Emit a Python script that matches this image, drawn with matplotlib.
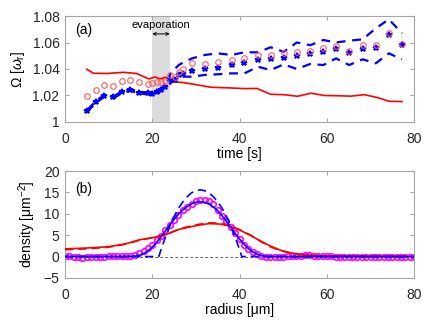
import matplotlib
matplotlib.use("Agg")
import matplotlib.pyplot as plt
import numpy as np

plt.rcParams['font.family'] = ['Liberation Sans', 'DejaVu Sans']
plt.rcParams['font.size'] = 10
plt.rcParams['mathtext.fontset'] = 'custom'
plt.rcParams['mathtext.rm'] = 'Liberation Sans'
plt.rcParams['mathtext.it'] = 'Liberation Sans:italic'

# ---------------- panel (a) data ----------------
t_line = [5.0, 6.5, 9.6, 13.4, 16.4, 19.2, 20.7, 21.8, 23.0, 24.1, 25.2, 26.5,
          29.5, 33.4, 37.2, 41.0, 44.0, 47.1, 50.2, 53.3, 56.3, 59.4, 62.5,
          65.5, 68.6, 71.6, 74.3, 77.2]
omega_line = [1.0398, 1.0368, 1.0366, 1.0375, 1.0366, 1.0325, 1.0340, 1.0325,
              1.0338, 1.0317, 1.0300, 1.0300, 1.0285, 1.0262, 1.0258, 1.0252,
              1.0253, 1.0209, 1.0206, 1.0194, 1.0217, 1.0200, 1.0198, 1.0195,
              1.0206, 1.0184, 1.0156, 1.0154]

t_pts = [5.1, 7.1, 9.0, 11.1, 13.0, 15.0, 17.0, 19.0, 20.0, 21.0, 22.0, 23.0,
         24.1, 25.1, 26.1, 27.1, 29.1, 32.0, 35.0, 38.2, 41.1, 44.2, 47.1,
         50.1, 53.1, 56.2, 59.2, 62.1, 65.1, 68.2, 71.2, 74.2, 77.2]
omega_circ = [1.0196, 1.0242, 1.0282, 1.0274, 1.0310, 1.0315, 1.0300, 1.0290,
              1.0296, 1.0300, 1.0304, 1.0310, 1.0355, 1.0340, 1.0378, 1.0398,
              1.0443, 1.0440, 1.0450, 1.0470, 1.0480, 1.0506, 1.0506, 1.0518,
              1.0526, 1.0536, 1.0556, 1.0574, 1.0538, 1.0579, 1.0583, 1.0674,
              1.0591]
omega_mean = [1.0083, 1.0153, 1.0196, 1.0186, 1.0224, 1.0242, 1.0221, 1.0216,
              1.0210, 1.0225, 1.0240, 1.0267, 1.0320, 1.0320, 1.0355, 1.0362,
              1.0387, 1.0398, 1.0405, 1.0430, 1.0448, 1.0468, 1.0475, 1.0485,
              1.0500, 1.0511, 1.0531, 1.0551, 1.0518, 1.0551, 1.0561, 1.0659,
              1.0579]
omega_upper = [1.0090, 1.0160, 1.0203, 1.0193, 1.0231, 1.0249, 1.0228, 1.0223,
               1.0217, 1.0232, 1.0247, 1.0274, 1.0360, 1.0400, 1.0430, 1.0450,
               1.0480, 1.0506, 1.0518, 1.0506, 1.0526, 1.0526, 1.0564, 1.0530,
               1.0600, 1.0580, 1.0619, 1.0600, 1.0614, 1.0624, 1.0707, 1.0775,
               1.0670]
omega_lower = [1.0076, 1.0146, 1.0189, 1.0179, 1.0217, 1.0235, 1.0214, 1.0209,
               1.0203, 1.0218, 1.0233, 1.0260, 1.0290, 1.0317, 1.0330, 1.0342,
               1.0342, 1.0355, 1.0360, 1.0367, 1.0367, 1.0417, 1.0392, 1.0435,
               1.0400, 1.0438, 1.0430, 1.0480, 1.0430, 1.0473, 1.0443, 1.0518,
               1.0473]

evap_start, evap_end = 20, 24

# ---------------- panel (b) data ----------------
r_data = list(range(0, 81))
n_data = [0.1, 0.1, 0.0, -0.2, -0.4, -0.2, 0.0, -0.1, 0.0, 0.0,
          0.1, 0.1, 0.1, 0.1, 0.1, 0.2, 0.4, 0.8, 1.3, 2.0,
          2.8, 3.8, 4.9, 6.2, 7.4, 8.6, 9.7, 10.8, 11.7, 12.4,
          13.0, 13.3, 13.3, 13.0, 12.2, 11.0, 9.6, 8.2, 6.8, 5.4,
          4.0, 2.8, 1.8, 1.0, 0.5, 0.1, -0.1, -0.2, -0.2, -0.1,
          0.0, 0.1, 0.1, 0.2, 0.2, 0.3, 0.3, 0.2, 0.2, 0.1,
          0.1, 0.1, 0.0, 0.0, 0.0, 0.0, 0.0, 0.0, 0.0, 0.0,
          0.0, 0.0, 0.0, 0.0, 0.0, 0.0, 0.0, 0.0, 0.0, 0.0, 0.0]

r_fit = [0, 4, 8, 12, 14, 16, 17, 18, 19, 20, 21, 22, 23, 24, 25, 26, 27, 28,
         29, 30, 31, 32, 33, 34, 35, 36, 37, 38, 39, 40, 41, 42, 43, 44, 45,
         46, 47, 50, 60, 70, 80]
n_gauss = [0, 0, 0, 0, 0.02, 0.1, 0.3, 0.7, 1.3, 2.2, 3.3, 4.6, 6.0, 7.4, 8.7,
           9.9, 10.9, 11.7, 12.3, 12.7, 12.8, 12.7, 12.3, 11.6, 10.7, 9.5, 8.2,
           6.8, 5.4, 4.1, 2.9, 1.9, 1.1, 0.6, 0.2, 0.05, 0.0, 0, 0, 0, 0]

r_tf = [0, 10, 20, 21.5, 22, 23, 24, 25, 26, 27, 28, 29, 30, 31, 32, 33, 34,
        35, 36, 37, 38, 39, 40, 40.5, 50, 60, 70, 80]
n_tf = [0, 0, 0, 0, 1.6, 4.5, 7.1, 9.4, 11.3, 12.8, 14.0, 14.9, 15.4, 15.6,
        15.4, 14.9, 14.0, 12.8, 11.3, 9.4, 7.1, 4.5, 1.6, 0, 0, 0, 0, 0]

r_red = [0, 5, 10, 14, 17, 20, 23, 26.3, 29, 31, 33, 35.5, 37.8, 40, 42.4,
         44.7, 47, 49.3, 51.6, 53.9, 56.2, 60, 65, 70, 78]
n_red = [1.8, 2.0, 2.3, 3.0, 3.9, 4.4, 5.1, 6.4, 7.0, 7.4, 7.7, 7.6, 7.1, 6.2,
         5.0, 3.7, 2.5, 1.5, 0.9, 0.5, 0.3, 0.15, 0.1, 0.05, 0.05]
n_red_dash = [1.6, 1.8, 2.2, 2.9, 3.8, 4.4, 5.1, 6.5, 7.2, 7.6, 7.9, 7.8, 7.2,
              6.3, 5.1, 3.6, 2.3, 1.4, 0.8, 0.45, 0.25, 0.1, 0.05, 0.0, 0.0]

# ---------------- figure ----------------
fig = plt.figure(figsize=(4.36, 3.27), dpi=100)
ax1 = fig.add_axes([0.149, 0.627, 0.801, 0.324])
ax2 = fig.add_axes([0.149, 0.150, 0.801, 0.327])

spine_col = '#a6a6a6'
for ax in (ax1, ax2):
    for s in ax.spines.values():
        s.set_color(spine_col)
        s.set_linewidth(0.8)
    ax.tick_params(direction='in', top=True, right=True, length=3,
                   color=spine_col, labelsize=10, labelcolor='#262626')
    ax.tick_params(axis='x', pad=7)
    ax.tick_params(axis='y', pad=4)

# panel (a)
ax1.axvspan(evap_start, evap_end, color='#dcdcdc', lw=0, zorder=0)
ax1.plot(t_line, omega_line, color='red', lw=1.2, zorder=2)
ax1.plot(t_pts, omega_upper, color='blue', lw=1.6, ls=(0, (4, 3)), zorder=3)
ax1.plot(t_pts, omega_lower, color='blue', lw=1.6, ls=(0, (4, 3)), zorder=3)
ax1.plot(t_pts, omega_mean, ls='none', marker='*', ms=4, mew=1.3,
         color='blue', zorder=4)
ax1.plot(t_pts, omega_circ, ls='none', marker='o', ms=4, mfc='none',
         mec='#ff5a5a', mew=0.8, zorder=5)
ax1.set_xlim(0, 80)
ax1.set_ylim(1.0, 1.08)
ax1.set_xticks([0, 20, 40, 60, 80])
ax1.set_yticks([1.0, 1.02, 1.04, 1.06, 1.08])
ax1.set_yticklabels(['1', '1.02', '1.04', '1.06', '1.08'])
ax1.set_xlabel('time [s]', labelpad=1)
ax1.set_ylabel(r'$\Omega$ [$\omega_{\rm r}$]', labelpad=4)
ax1.text(0.03, 0.93, '(a)', transform=ax1.transAxes, ha='left', va='top',
         fontsize=10)
ax1.text((evap_start + evap_end) / 2, 1.0735, 'evaporation', ha='center',
         va='center', fontsize=8)
ax1.annotate('', xy=(evap_start, 1.0665), xytext=(evap_end, 1.0665),
             arrowprops=dict(arrowstyle='<->', lw=0.7, color='black',
                             mutation_scale=5, shrinkA=0, shrinkB=0))

# panel (b)
ax2.axhline(0, color='#404040', lw=0.6, ls=(0, (3, 3)), zorder=1)
ax2.plot(r_data, n_data, ls='none', marker='o', ms=4, mfc='none',
         mec='magenta', mew=1.2, zorder=2)
ax2.plot(r_red, n_red, color='red', lw=1.2, zorder=3)
ax2.plot(r_red, n_red_dash, color='red', lw=1.2, ls=(0, (5, 3)), zorder=3)
ax2.plot(r_fit, n_gauss, color='blue', lw=1.2, zorder=4)
ax2.plot(r_tf, n_tf, color='blue', lw=1.2, ls=(0, (5, 3)), zorder=4)
ax2.set_xlim(0, 80)
ax2.set_ylim(-5, 20)
ax2.set_xticks([0, 20, 40, 60, 80])
ax2.set_yticks([-5, 0, 5, 10, 15, 20])
ax2.set_xlabel('radius [μm]', labelpad=1)
ax2.set_ylabel(r'density [μm$^{-2}$]', labelpad=4)
ax2.text(0.03, 0.90, '(b)', transform=ax2.transAxes, ha='left', va='top',
         fontsize=10)

fig.savefig('out.png', dpi=100)
